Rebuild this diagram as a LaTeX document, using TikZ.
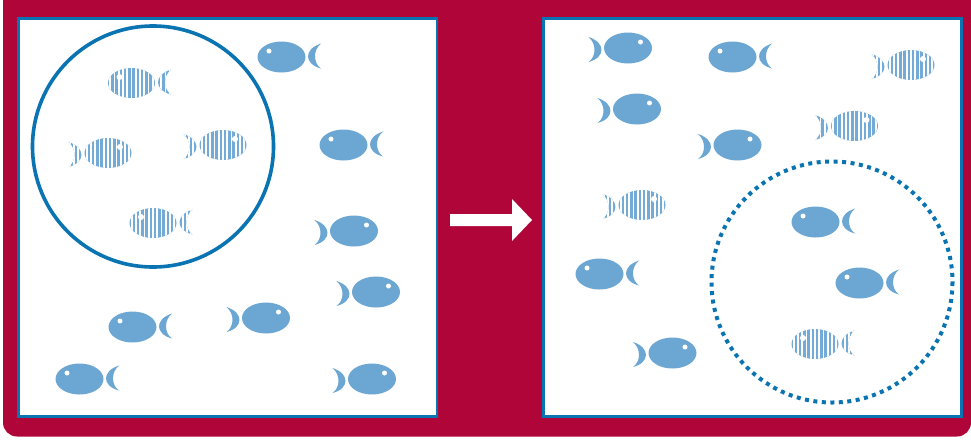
\documentclass[tikz,border=0pt]{standalone}
\definecolor{crim}{HTML}{B00538}
\definecolor{edge}{HTML}{0A74B2}
\definecolor{fishc}{HTML}{6CA6D2}
\definecolor{stripec}{HTML}{74ABD6}
\newcommand{\tailpath}[1]{(39.5,-13.5+#1) .. controls (22.2,-8+#1) and (22.2,7+#1) .. (39.5,11.5+#1) .. controls (31.5,6+#1) and (31.5,-7+#1) .. (39.5,-13.5+#1) -- cycle}
\newcommand{\solidfish}[1]{
    \fill[fishc] (0,0) ellipse [x radius=24,y radius=15.5];
    \fill[white] (-12.5,-6) circle (2.5);
    \fill[fishc] \tailpath{#1};
}
\newcommand{\barfish}[1]{
    \begin{scope}
    \clip (0,0) ellipse [x radius=23.5,y radius=15] \tailpath{#1};
    \fill[stripec] (-26,-17) rectangle (42,18);
    \foreach \k in {-6,...,9} \fill[white] ({\k*4.25-0.8},-17) rectangle ({\k*4.25+0.8},18);
    \end{scope}
    \fill[white] (-12,-6) circle (3);
}
\tikzset{
  x=1pt,y=-1pt,
  panel/.style={draw=edge,line width=2.6pt,fill=white},
  fishleft/.pic={\solidfish{0}},
  fishright/.pic={\solidfish{2.5}},
  barleft/.pic={\barfish{0}},
  barright/.pic={\barfish{2.5}}
}
\begin{document}
\begin{tikzpicture}
\useasboundingbox (0,0) rectangle (971,440);
\fill[crim,rounded corners=14pt] (3,-20) rectangle (971,436.5);
\fill[crim] (900,-5) rectangle (971,100);
\draw[panel] (18.5,18.7) rectangle (437,416.7);
\draw[panel] (543.5,18.7) rectangle (961.5,416.7);
% arrow
\fill[white] (450,214) -- (512,214) -- (512,199) -- (532,220) -- (512,241) -- (512,226) -- (450,226) -- cycle;
% rings
\draw[edge,line width=3.6pt] (153,146.5) circle (120.5);
\draw[edge,line width=4pt,dash pattern=on 4pt off 4.5pt] (832,282) circle (120.5);
% left panel
\foreach \a/\b in {281.5/57,343.5/145,132.5/327,79.5/379} \pic at (\a,\b) {fishleft};
\foreach \a/\b in {354/231,376/292,266/318,372/379} \pic[xscale=-1] at (\a,\b) {fishright};
\foreach \a/\b in {131.5/83,153/223} \pic at (\a,\b) {barleft};
\foreach \a/\b in {108/153,223/145} \pic[xscale=-1] at (\a,\b) {barright};
% right panel
\foreach \a/\b in {732.5/57,815.5/222,599.5/274,859.5/283} \pic at (\a,\b) {fishleft};
\foreach \a/\b in {628/48,637/109,737.5/145,672.5/353} \pic[xscale=-1] at (\a,\b) {fishright};
\foreach \a/\b in {815/344} \pic at (\a,\b) {barleft};
\foreach \a/\b in {911/65,854.5/126,642/205} \pic[xscale=-1] at (\a,\b) {barright};
\end{tikzpicture}
\end{document}
